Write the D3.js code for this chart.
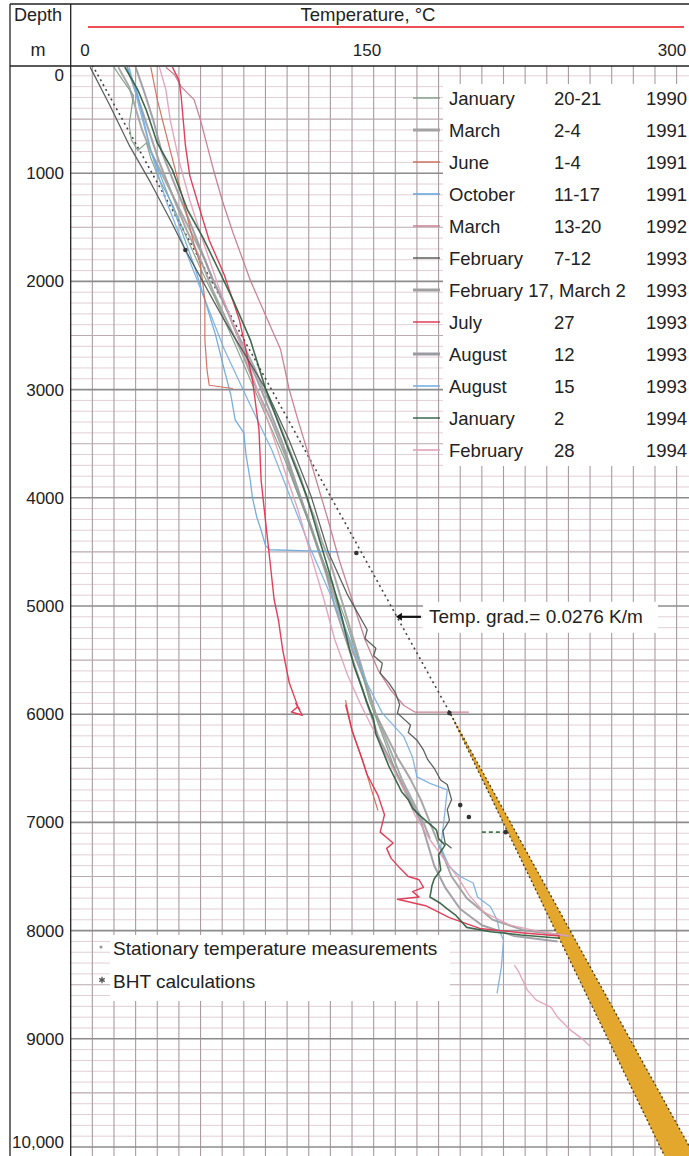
<!DOCTYPE html>
<html><head><meta charset="utf-8">
<script src="https://cdn.jsdelivr.net/npm/d3@7"></script>
<style>
html,body{margin:0;padding:0;background:#fff;}
svg text{font-family:"Liberation Sans",Arial,sans-serif;fill:#222;}
</style></head><body><svg id="c" width="689" height="1156"></svg>
<script>
// ---------- DATA ----------
const depthTicks = [0,1000,2000,3000,4000,5000,6000,7000,8000,9000,10000];
const depthTickLabels = ["0","1000","2000","3000","4000","5000","6000","7000","8000","9000","10,000"];
const tempTicks = [0,150,300];
const tempTickLabels = ["0","150","300"];

// temperature logs: [temperature °C, depth m]; null = gap
const jan1990 = [[20,20],[24,140],[29,280],[28,420],[27,550],[28,690],[31,790],[35,720],[37,860],[41,1060],[47,1290],[53,1570],[60,1880],[67,2170],[75,2540],[83,2910],[91,3280],[99,3650],[106,4020],[113,4390],[120,4760],[127,5130],[133,5500],[138,5870],[144,6190],[150,6520],[156,6790]];
const mar1991 = [[22,20],[27,200],[30,400],[33,600],[37,800],[42,1000],[47,1200],[52,1400],[57,1600],[62,1800],[66,2000],[71,2200],[75,2400],[80,2600],[85,2800],[89,3000],[94,3200],[98,3400],[102,3600],[106,3800],[109,4000],[113,4200],[116,4400],[120,4600],[123,4800],[126,5000],[129,5200],[132,5400],[135,5600],[138,5800],[141,6000],[145,6200],[149,6400],[153,6600],[158,6800],[163,7000],[166,7150]];
const jun1991 = [[37,20],[40,320],[46,790],[52,1250],[57,1660],[60,1850],[62,2170],[62,2540],[63,2820],[64,2960],[75,2990],null,[127,5870],[130,6150],[135,6430],[139,6700],[142,6890]];
const oct1991 = [[26,20],[30,200],[33,450],[37,790],[44,1150],[51,1520],[57,1850],[62,2170],[67,2500],[71,2820],[74,3050],[76,3280],[80,3400],[81,3600],[83,3840],[84,4000],[86,4180],[88,4300],[90,4440],[92,4480],[110,4490],[124,4500]];
const mar1992 = [[44,20],[48,90],[51,200],[57,320],[60,510],[63,740],[66,970],[70,1250],[75,1550],[83,1990],[90,2310],[97,2630],[101,3000],[105,3280],[112,3740],[119,4210],[124,4570],[130,4940],[136,5310],[142,5590],[148,5780],[154,5920],[159,5980],[184,5980]];
const feb1993 = [[9,20],[18,370],[27,740],[37,1090],[46,1430],[53,1710],[71,2360],[90,2990],[101,3470],[111,3980],[119,4500],[128,4900],[137,5220],[136,5300],[141,5390],[140,5460],[144,5530],[143,5620],[147,5710],[150,5800],[152,5910],[151,5990],[157,6100],[156,6170],[160,6240],[163,6330],[165,6420],[168,6500],[171,6610],[174,6650],[176,6790],[174,6880],[175,6980],[172,7080],[173,7190],[176,7240]];
const feb17mar2_1993 = [[26,20],[31,300],[36,600],[41,900],[47,1200],[53,1500],[60,1800],[66,2100],[73,2400],[80,2700],[86,3000],[93,3300],[99,3600],[104,3900],[110,4200],[115,4500],[120,4800],[125,5100],[130,5400],[136,5700],[141,6000],[146,6200],[151,6400],[157,6600],[162,6800],[166,7000],[170,7200],[176,7500],[183,7700],[195,7900],[210,8000],[230,8050]];
const jul1993 = [[47,20],[50,140],[51,280],[52,510],[53,740],[55,1020],[59,1290],[64,1620],[71,1940],[78,2360],[84,2910],[87,3370],[88,3840],[90,4210],[92,4570],[94,4940],[96,5130],[98,5410],[101,5710],[105,5930],[102,5980],[107,6010],[104,5900],[106,5960],null,[127,5910],[130,6150],[134,6380],[137,6560],[142,6750],[145,6930],[143,7090],[149,7190],[146,7240],[148,7330],[152,7420],[156,7500],[161,7530],[163,7600],[158,7640],[161,7690],[151,7710],[164,7770],[175,7880],[189,7980],[208,8020],[226,8050]];
const aug12_1993 = [[30,20],[34,250],[38,500],[42,800],[48,1100],[54,1400],[60,1700],[66,2000],[73,2300],[79,2600],[86,2900],[92,3200],[98,3500],[103,3800],[108,4100],[113,4400],[118,4700],[122,5000],[127,5300],[132,5600],[137,5900],[142,6200],[147,6400],[152,6600],[157,6800],[162,7000],[165,7200],[168,7400],[173,7600],[180,7800],[190,7950],[205,8050],[225,8100]];
const aug15_1993 = [[27,20],[32,420],[37,790],[44,1250],[53,1710],[62,2170],[71,2630],[82,3100],[93,3560],[102,4020],[111,4480],[121,4940],[129,5310],[136,5680],[144,5990],[154,6210],[158,6400],[160,6580],[166,6640],[174,6700],[173,6890],[171,7230],[175,7410],[180,7500],[186,7560],[188,7690],[194,7780],[197,7900],[198,7990],[200,8090],[199,8340],[197,8580]];
const jan1994 = [[25,20],[31,230],[35,420],[40,720],[47,970],[54,1340],[61,1590],[69,1920],[75,2170],[83,2540],[90,2990],[99,3470],[109,3980],[115,4390],[121,4790],[125,5080],[127,5250],[129,5410],[131,5560],[135,5780],[137,5900],[140,6050],[141,6180],[144,6330],[147,6480],[151,6640],[153,6720],[156,6790],[158,6870],[161,6930],[165,7000],[169,7070],[170,7150],[173,7210],[170,7300],[171,7440],[168,7520],[167,7580],[166,7690],[171,7750],[174,7800],[178,7860],[183,7970],[194,8010],[208,8040],[226,8070]];
const feb1994 = [[41,20],[44,230],[46,510],[50,880],[55,1250],[61,1620],[68,2030],[76,2450],[84,2870],[91,3280],[98,3700],[105,4110],[111,4530],[117,4940],[122,5310],[128,5640],[134,5910],[141,6190],[148,6470],[154,6700],[159,6930],[166,7160],[173,7350],[179,7510],[184,7670],[191,7830],[203,7950],[217,8010],[230,8050],null,[205,8320],[207,8380],[211,8550],[215,8640],[222,8710],[225,8800],[231,8920],[237,9010],[240,9070]];

// gradient line (0.0276 K/m) and extrapolation band: [depth, T low, T high]
const gradientLine = [[10,0],[175.6,6000]];
const gradBand = [[6000,175.6,175.6],[10500,284.5,299.8]];
const gradLabelDepth = 5100;
// BHT calculations
const bhtPoints = [[53,1710],[132,4510],[175,5990],[180,6840],[184,6950],[201,7090]];
const bhtRange = [[190,7090],[201,7090]];

// legend
const legendMonths = ["January","March","June","October","March","February","February 17, March 2","July","August","August","January","February"];
const legendDays = ["20-21","2-4","1-4","11-17","13-20","7-12","","27","12","15","2","28"];
const legendYears = ["1990","1991","1991","1991","1992","1993","1993","1993","1993","1993","1994","1994"];

// ---------- STYLES ----------
const series = [
  {data: jan1990, color:"#7f9e84", w:1.2},
  {data: mar1991, color:"#a3a3a3", w:2.0},
  {data: jun1991, color:"#cf6a55", w:1.2},
  {data: oct1991, color:"#6aa8dc", w:1.3},
  {data: mar1992, color:"#c7788d", w:1.3},
  {data: feb1993, color:"#4d5750", w:1.3},
  {data: feb17mar2_1993, color:"#a0a0a0", w:2.0},
  {data: jul1993, color:"#e0304c", w:1.4},
  {data: aug12_1993, color:"#9a9aa2", w:2.0},
  {data: aug15_1993, color:"#78b0e2", w:1.3},
  {data: jan1994, color:"#2f5e40", w:1.6},
  {data: feb1994, color:"#e2a0b6", w:1.4}
];
const swatchW = [1.4,3,1.4,1.6,1.4,1.4,3,1.4,3,1.6,1.4,1.6];
const drawOrder = [1,6,8,0,3,9,4,11,2,7,5,10];

// ---------- CHART ----------
const svg = d3.select("#c");
const plotL = 70.7, plotT = 66, plotR = 689, plotB = 1156;
const x = d3.scaleLinear().domain([0,300]).range([70.7, 719.9]);
const y = d3.scaleLinear().domain([0,10000]).range([65, 1147]);
const xHead = d3.scaleLinear().domain([0,150,300]).range([85,367,672]);

svg.append("rect").attr("width",689).attr("height",1156).attr("fill","#fff");
svg.append("defs").append("clipPath").attr("id","clip").append("rect")
  .attr("x",plotL).attr("y",plotT).attr("width",plotR-plotL).attr("height",plotB-plotT);
const g = svg.append("g").attr("clip-path","url(#clip)");

const hDepths = d3.range(0, 10900, 100);
g.selectAll("line.hmin").data(hDepths.filter(d=>d%500!==0)).join("line")
  .attr("x1",plotL).attr("x2",plotR).attr("y1",d=>y(d)).attr("y2",d=>y(d))
  .attr("stroke","#e3cfd6").attr("stroke-width",1);
g.selectAll("line.v").data(d3.range(10,300,10)).join("line")
  .attr("x1",d=>x(d)).attr("x2",d=>x(d)).attr("y1",plotT).attr("y2",plotB)
  .attr("stroke","#a99ba1").attr("stroke-width",1.1);
g.selectAll("line.hmaj").data(hDepths.filter(d=>d%500===0)).join("line")
  .attr("x1",plotL).attr("x2",plotR).attr("y1",d=>y(d)).attr("y2",d=>y(d))
  .attr("stroke",d=>d%1000===0?"#8c8c8c":"#bbaab1").attr("stroke-width",d=>d%1000===0?1.6:1.1);

// extrapolation band
const area = d3.area().x0(d=>x(d[1])).x1(d=>x(d[2])).y(d=>y(d[0]));
g.append("path").datum(gradBand).attr("d",area).attr("fill","#e2a72c");
[1,2].forEach(k=>{
  g.append("path").datum(gradBand).attr("d",d3.line().x(d=>x(d[k])).y(d=>y(d[0])))
   .attr("fill","none").attr("stroke","#4a3a14").attr("stroke-width",1.3).attr("stroke-dasharray","2,2.5");
});
g.append("path").datum(gradientLine).attr("d",d3.line().x(d=>x(d[0])).y(d=>y(d[1])))
  .attr("fill","none").attr("stroke","#444").attr("stroke-width",1.6).attr("stroke-dasharray","2,3.5");

const line = d3.line().defined(d=>d!==null).x(d=>x(d[0])).y(d=>y(d[1]));
drawOrder.forEach(i=>{
  const s = series[i];
  g.append("path").datum(s.data).attr("d",line).attr("fill","none")
   .attr("stroke",s.color).attr("stroke-width",s.w).attr("stroke-linejoin","round").attr("opacity",0.92);
});

g.append("path").datum(bhtRange).attr("d",line).attr("stroke","#3d7a4e").attr("stroke-width",1.6)
  .attr("stroke-dasharray","4,3").attr("fill","none");
g.selectAll("circle.bht").data(bhtPoints).join("circle")
  .attr("cx",d=>x(d[0])).attr("cy",d=>y(d[1])).attr("r",2.3).attr("fill","#333");

// ---------- FRAME / HEADER ----------
const frame = svg.append("g").attr("stroke","#222").attr("stroke-width",1.3);
frame.append("line").attr("x1",10).attr("x2",689).attr("y1",4).attr("y2",4);
frame.append("line").attr("x1",10).attr("x2",10).attr("y1",4).attr("y2",1156);
frame.append("line").attr("x1",plotL).attr("x2",plotL).attr("y1",4).attr("y2",1156);
frame.append("line").attr("x1",10).attr("x2",689).attr("y1",plotT).attr("y2",plotT);

svg.append("text").attr("x",38).attr("y",21).attr("text-anchor","middle").attr("font-size",18).text("Depth");
svg.append("text").attr("x",38).attr("y",56).attr("text-anchor","middle").attr("font-size",18).text("m");
svg.append("text").attr("x",368).attr("y",21).attr("text-anchor","middle").attr("font-size",18.5).text("Temperature, °C");
svg.append("line").attr("x1",xHead(0)+3).attr("x2",xHead(300)+12).attr("y1",27).attr("y2",27)
  .attr("stroke","#e8141c").attr("stroke-width",1.3);
svg.selectAll("text.tt").data(tempTicks).join("text")
  .attr("x",d=>xHead(d)).attr("y",56).attr("text-anchor","middle").attr("font-size",17)
  .text((d,i)=>tempTickLabels[i]);

svg.selectAll("text.dt").data(depthTicks).join("text")
  .attr("x",64).attr("y",(d,i)=>y(d)+(i===0?16:(i===depthTicks.length-1?1:6)))
  .attr("text-anchor","end").attr("font-size",17).text((d,i)=>depthTickLabels[i]);

// ---------- LEGEND ----------
svg.append("rect").attr("x",443).attr("y",84).attr("width",246).attr("height",382).attr("fill","#fff");
const rowY = i => 98 + 32*i;
legendMonths.forEach((m,i)=>{
  const s = series[i];
  svg.append("line").attr("x1",413).attr("x2",440).attr("y1",rowY(i)).attr("y2",rowY(i))
    .attr("stroke",s.color).attr("stroke-width",swatchW[i]);
  svg.append("text").attr("x",449).attr("y",rowY(i)+7).attr("font-size",18.5).text(m);
  if (legendDays[i]) svg.append("text").attr("x",554).attr("y",rowY(i)+7).attr("font-size",18.5).text(legendDays[i]);
  svg.append("text").attr("x",646).attr("y",rowY(i)+7).attr("font-size",18.5).text(legendYears[i]);
});

// gradient annotation
const gx = x(gradientLine[0][0] + (gradientLine[1][0]-gradientLine[0][0])/gradientLine[1][1]*gradLabelDepth);
const gy = y(gradLabelDepth);
svg.append("rect").attr("x",423).attr("y",gy-15).attr("width",235).attr("height",31).attr("fill","#fff");
svg.append("line").attr("x1",gx+2).attr("x2",gx+24).attr("y1",gy).attr("y2",gy).attr("stroke","#111").attr("stroke-width",2.2);
svg.append("path").attr("d",`M${gx-1},${gy} l6,-4 l0,8 z`).attr("fill","#111");
svg.append("text").attr("x",429).attr("y",gy+6).attr("font-size",19).text("Temp. grad.= 0.0276 K/m");

// bottom legend
svg.append("rect").attr("x",110).attr("y",935).attr("width",340).attr("height",66).attr("fill","#fff");
svg.append("circle").attr("cx",101).attr("cy",947).attr("r",1.6).attr("fill","#999");
svg.append("path").attr("d",d3.symbol(d3.symbolAsterisk,28)()).attr("transform","translate(102,980)")
  .attr("stroke","#555").attr("stroke-width",1.3);
svg.append("text").attr("x",113).attr("y",955).attr("font-size",19).text("Stationary temperature measurements");
svg.append("text").attr("x",113).attr("y",988).attr("font-size",19).text("BHT calculations");
</script></body></html>
